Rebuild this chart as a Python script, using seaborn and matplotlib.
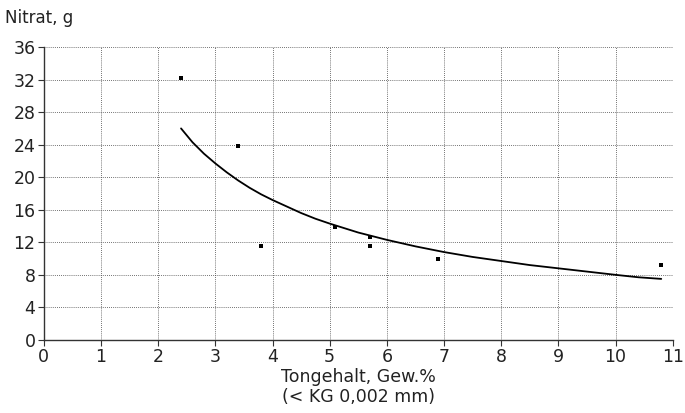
import matplotlib
matplotlib.use('Agg')

import pandas as pd
import matplotlib.pyplot as plt
import seaborn as sns

# Messpunkte (Tongehalt in Gew.%, Nitrat in g)
ton_punkte = [2.4, 3.4, 3.8, 5.1, 5.7, 5.7, 6.9, 10.8]
nitrat_punkte = [32.2, 23.8, 11.6, 13.9, 12.7, 11.6, 9.9, 9.2]

# Ausgleichskurve
ton_kurve = [2.4, 2.6, 2.8, 3.0, 3.2, 3.4, 3.6, 3.8, 4.0, 4.25, 4.5, 4.75, 5.0,
             5.5, 6.0, 6.5, 7.0, 7.5, 8.0, 8.5, 9.0, 9.5, 10.0, 10.4, 10.8]
nitrat_kurve = [26.0, 24.3, 22.9, 21.7, 20.6, 19.6, 18.7, 17.9, 17.2, 16.4, 15.6, 14.9, 14.3,
                13.2, 12.3, 11.5, 10.8, 10.2, 9.7, 9.2, 8.8, 8.4, 8.0, 7.7, 7.5]

x_ticks = list(range(0, 12))
y_ticks = list(range(0, 40, 4))

sns.set_theme(style="white")
plt.rcParams['font.family'] = ['DejaVu Sans']

df_punkte = pd.DataFrame({"ton": ton_punkte, "nitrat": nitrat_punkte})
df_kurve = pd.DataFrame({"ton": ton_kurve, "nitrat": nitrat_kurve})

fig = plt.figure(figsize=(6.85, 4.13), dpi=100)
ax = fig.add_axes([0.064, 0.177, 0.918, 0.709])

sns.lineplot(data=df_kurve, x="ton", y="nitrat", color="black", linewidth=1.3, ax=ax)
sns.scatterplot(data=df_punkte, x="ton", y="nitrat", marker="s", s=9, color="black",
                edgecolor="black", linewidth=0, ax=ax)

ax.set_xlim(0, 11)
ax.set_ylim(0, 36)
ax.set_xticks(x_ticks)
ax.set_yticks(y_ticks)
ax.grid(True, color="#444444", linestyle=(0, (1, 1.5)), linewidth=0.6)
ax.set_axisbelow(True)

for side in ["top", "right"]:
    ax.spines[side].set_visible(False)
for side in ["left", "bottom"]:
    ax.spines[side].set_color("#333333")
    ax.spines[side].set_linewidth(1.0)

ax.tick_params(axis="both", which="major", direction="out", length=4, width=0.8,
               color="#333333", labelsize=12.5, labelcolor="#222222", pad=2, left=True, bottom=True)

ax.set_xlabel("Tongehalt, Gew.%\n(< KG 0,002 mm)", fontsize=12.5, color="#222222", labelpad=1,
              linespacing=1.15)
ax.set_ylabel("")
fig.text(0.008, 0.935, "Nitrat, g", fontsize=12, color="#222222", ha="left", va="bottom")

fig.savefig("out.png", dpi=100)
plt.close(fig)
